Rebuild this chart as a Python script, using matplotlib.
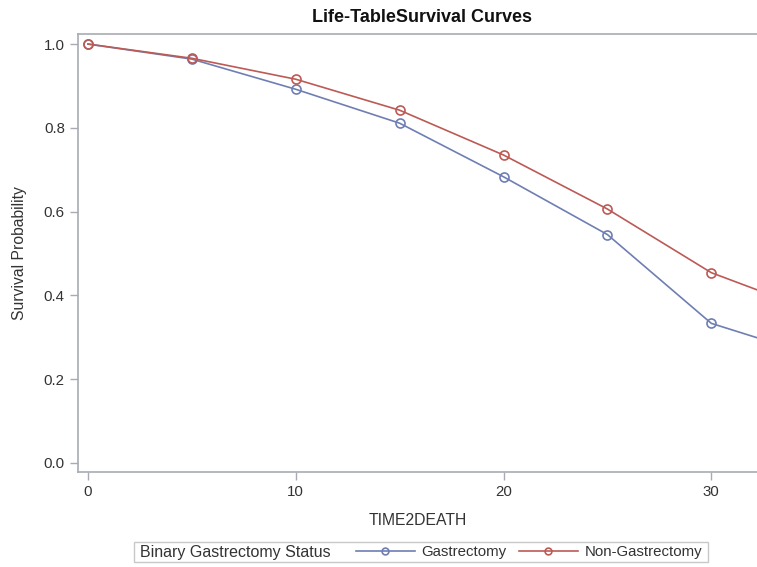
import matplotlib
matplotlib.use("Agg")
import matplotlib.pyplot as plt
from matplotlib.patches import Rectangle

plt.rcParams["font.family"] = ["Liberation Sans", "DejaVu Sans"]

# life-table survival estimates
time = [0, 5, 10, 15, 20, 25, 30, 35]
surv_gastrectomy = [1.0, 0.964, 0.892, 0.811, 0.683, 0.545, 0.333, 0.255]
surv_non_gastrectomy = [1.0, 0.966, 0.916, 0.842, 0.735, 0.606, 0.454, 0.361]
groups = ["Gastrectomy", "Non-Gastrectomy"]
colors = ["#6F7EB3", "#BC5A55"]

W, H = 757, 567
fig = plt.figure(figsize=(W / 100, H / 100), dpi=100)
ax = fig.add_axes([78 / W, 1 - 472 / H, 1 - 78 / W, (472 - 34) / H])

handles = []
for vals, lab, col in zip([surv_gastrectomy, surv_non_gastrectomy], groups, colors):
    (h,) = ax.plot(time, vals, color=col, lw=1.2, marker="o", ms=6.5,
                   mfc="none", mec=col, mew=1.2, label=lab, clip_on=True)
    handles.append(h)

ax.set_xlim(-0.48, 32.2)
ax.set_ylim(-0.022, 1.024)
ax.set_xticks([0, 10, 20, 30])
ax.set_yticks([0.0, 0.2, 0.4, 0.6, 0.8, 1.0])
ax.set_yticklabels(["0.0", "0.2", "0.4", "0.6", "0.8", "1.0"])

spine_col = "#A8ACB2"
for side in ["left", "bottom", "top"]:
    ax.spines[side].set_color(spine_col)
    ax.spines[side].set_linewidth(1.2)
ax.spines["right"].set_visible(False)
ax.tick_params(colors=spine_col, labelcolor="#333333", labelsize=10.8,
               length=6, width=1)

ax.set_xlabel("TIME2DEATH", fontsize=11.3, color="#333333", labelpad=10)
ax.set_ylabel("Survival Probability", fontsize=11.3, color="#333333", labelpad=12)
fig.text(421.5 / W, 1 - 17 / H, "Life-TableSurvival Curves", ha="center",
         va="center", fontsize=13, fontweight="bold", color="#111111")

# legend box with the title inline, SAS style
fig.patches.append(Rectangle((134 / W, 1 - 562 / H), (708 - 134) / W, 20 / H,
                             transform=fig.transFigure, fill=False,
                             edgecolor="#C8C8C8", lw=1))
fig.text(140 / W, 1 - 552 / H, "Binary Gastrectomy Status", ha="left",
         va="center", fontsize=11.5, color="#333333")
fig.legend(handles=handles, loc="center left", bbox_to_anchor=(356 / W, 1 - 552 / H),
           ncol=2, frameon=False, fontsize=10.8, handlelength=3.9,
           handletextpad=0.45, columnspacing=0.85, borderpad=0, borderaxespad=0,
           markerscale=0.75, labelcolor="#333333")

fig.savefig("out.png", dpi=100)
